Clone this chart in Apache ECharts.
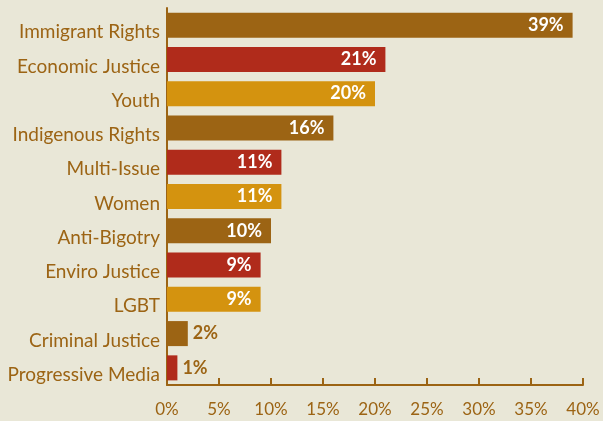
<!DOCTYPE html>
<html><head><meta charset="utf-8">
<script src="https://cdn.jsdelivr.net/npm/echarts@6/dist/echarts.min.js"></script>
<style>html,body{margin:0;padding:0;background:#e9e7d7;}#c{width:603px;height:421px;}</style>
</head><body><div id="c"></div>
<script>
var categories = ["Immigrant Rights","Economic Justice","Youth","Indigenous Rights","Multi-Issue","Women","Anti-Bigotry","Enviro Justice","LGBT","Criminal Justice","Progressive Media"];
var values = [39,21,20,16,11,11,10,9,9,2,1];
var palette = ["#9c6414","#b02b1b","#d4930f"];
var tickLabels = ["0%","5%","10%","15%","20%","25%","30%","35%","40%"];
var textColor = "#9c6414";
var font = "Lato";
var data = values.map(function(v,i){
  var inside = v >= 5;
  return {value:v, itemStyle:{color:palette[i%3]},
    label:{show:true, position: inside?'insideRight':'right', distance: inside?9:5,
      color: inside?'#ffffff':textColor, fontWeight:'bold', fontSize:18, fontFamily:font,
      formatter: v+'%'}};
});
var chart = echarts.init(document.getElementById('c'));
chart.setOption({
  backgroundColor:'#e9e7d7',
  animation:false,
  grid:{left:167,right:20,top:8,bottom:36,containLabel:false},
  xAxis:{type:'value',min:0,max:40,interval:5,
    axisLine:{show:true,lineStyle:{color:textColor,width:2}},
    axisTick:{show:true,inside:true,length:7,lineStyle:{color:textColor,width:2}},
    splitLine:{show:false},
    axisLabel:{color:textColor,fontSize:17,fontFamily:font,margin:16,
      formatter:function(v){return tickLabels[v/5];}}
  },
  yAxis:{type:'category',data:categories,inverse:true,
    axisLine:{show:true,lineStyle:{color:textColor,width:2}},
    axisTick:{show:false},
    axisLabel:{color:textColor,fontSize:19,fontFamily:font,margin:7,
      formatter:function(v){return '{a|'+v+'}';},
      rich:{a:{color:textColor,fontSize:19,fontFamily:font,padding:[14,0,0,0]}}}
  },
  series:[{type:'bar',data:data,barCategoryGap:'27%'}]
});
</script></body></html>
